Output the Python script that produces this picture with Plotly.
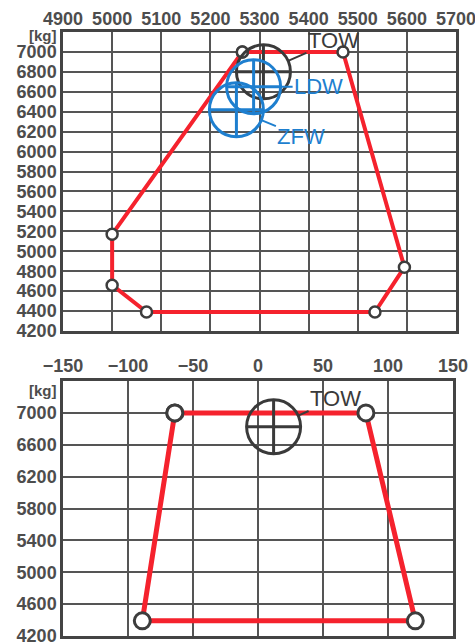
import plotly.graph_objects as go

# ---- Data ----
# Longitudinal CG envelope (top chart)
env_cg = [5265, 5470, 5595, 5535, 5070, 5000, 5000, 5265]
env_w = [7000, 7000, 4840, 4390, 4390, 4660, 5170, 7000]
# Lateral CG envelope (bottom chart)
lat_env_cg = [-64, 83, 121, -89, -64]
lat_env_w = [7000, 7000, 4390, 4390, 7000]
# Loading points
load_labels = ["TOW", "LDW", "ZFW"]
load_cg = [5308, 5288, 5253]
load_w = [6800, 6650, 6420]
load_colors = ["#3a3a3a", "#1e7fcf", "#1e7fcf"]
lat_labels = ["TOW"]
lat_cg = [12]
lat_w = [6825]
# Tick labels
top_xticks = [4900, 5000, 5100, 5200, 5300, 5400, 5500, 5600, 5700]
top_yticks = [4200, 4400, 4600, 4800, 5000, 5200, 5400, 5600, 5800, 6000, 6200, 6400, 6600, 6800, 7000]
bot_xticks = [-150, -100, -50, 0, 50, 100, 150]
bot_yticks = [4200, 4600, 5000, 5400, 5800, 6200, 6600, 7000]

RED = "#f5222d"
GRID = "#555555"
TXT = "#4d4d4d"
FONT = "Liberation Sans"

fig = go.Figure()

fig.add_trace(go.Scatter(
    x=env_cg, y=env_w, mode="lines+markers", xaxis="x", yaxis="y",
    line=dict(color=RED, width=4),
    marker=dict(size=11, color="white", line=dict(color="#3d3d3d", width=2.5)),
    showlegend=False, hoverinfo="skip"))

fig.add_trace(go.Scatter(
    x=lat_env_cg, y=lat_env_w, mode="lines+markers", xaxis="x2", yaxis="y2",
    line=dict(color=RED, width=5),
    marker=dict(size=16, color="white", line=dict(color="#3d3d3d", width=3)),
    showlegend=False, hoverinfo="skip"))

shapes = []
annotations = []
R = 27


def add_cg_mark(xref, yref, cx, cy, color, label, ax, ay):
    shapes.append(dict(type="circle", xref=xref, yref=yref,
                       xsizemode="pixel", ysizemode="pixel",
                       xanchor=cx, yanchor=cy, x0=-R, x1=R, y0=-R, y1=R,
                       line=dict(color=color, width=3), layer="above"))
    shapes.append(dict(type="line", xref=xref, yref=yref,
                       xsizemode="pixel", ysizemode="pixel",
                       xanchor=cx, yanchor=cy, x0=-R, x1=R, y0=0, y1=0,
                       line=dict(color=color, width=3), layer="above"))
    shapes.append(dict(type="line", xref=xref, yref=yref,
                       xsizemode="pixel", ysizemode="pixel",
                       xanchor=cx, yanchor=cy, x0=0, x1=0, y0=-R, y1=R,
                       line=dict(color=color, width=3), layer="above"))
    annotations.append(dict(x=cx, y=cy, xref=xref, yref=yref, text=label,
                            showarrow=True, arrowhead=0, arrowwidth=2,
                            arrowcolor=color, ax=ax, ay=ay, standoff=R,
                            font=dict(family=FONT, size=22, color=color)))


offsets = [(70, -31), (65, 0), (65, 27)]
for lab, cx, cy, col, (ax, ay) in zip(load_labels, load_cg, load_w, load_colors, offsets):
    add_cg_mark("x", "y", cx, cy, col, lab, ax, ay)

for lab, cx, cy in zip(lat_labels, lat_cg, lat_w):
    add_cg_mark("x2", "y2", cx, cy, "#3a3a3a", lab, 62, -28)

for yref, xref, ysh in [("y", "x", -3), ("y2", "x2", -9)]:
    annotations.append(dict(x=0, y=1, xref=xref + " domain", yref=yref + " domain",
                            text="<b>[kg]</b>", showarrow=False, xanchor="right",
                            yanchor="middle", xshift=-5, yshift=ysh, borderpad=0,
                            font=dict(family=FONT, size=15, color=TXT)))

axis_common = dict(showgrid=True, gridcolor=GRID, gridwidth=1.6,
                   showline=True, linecolor="#444444", linewidth=2.5, mirror=True,
                   zeroline=False, ticks="", automargin=False,
                   ticklabeloverflow="allow",
                   tickfont=dict(family=FONT, size=18, color=TXT, weight="bold"))

W, H = 475, 642
fig.update_layout(
    width=W, height=H, autosize=False,
    margin=dict(l=0, r=0, t=0, b=0),
    paper_bgcolor="white", plot_bgcolor="white",
    xaxis=dict(domain=[63 / W, 456 / W], range=[4900, 5700], anchor="y",
               side="top", tickvals=top_xticks, ticklabelstandoff=-3, **axis_common),
    yaxis=dict(domain=[1 - 331 / H, 1 - 32 / H], range=[4200, 7200], anchor="x",
               tickvals=top_yticks, **axis_common),
    xaxis2=dict(domain=[63 / W, 453 / W], range=[-150, 150], anchor="y2",
                side="top", tickvals=bot_xticks, ticklabelstandoff=-1, **axis_common),
    yaxis2=dict(domain=[1 - 636 / H, 1 - 381 / H], range=[4200, 7400], anchor="x2",
                tickvals=bot_yticks, **axis_common),
    shapes=shapes, annotations=annotations,
)

fig.write_html("out.html", config={"displayModeBar": False},
               post_script="document.body.style.margin='0';document.body.style.overflow='hidden';")
